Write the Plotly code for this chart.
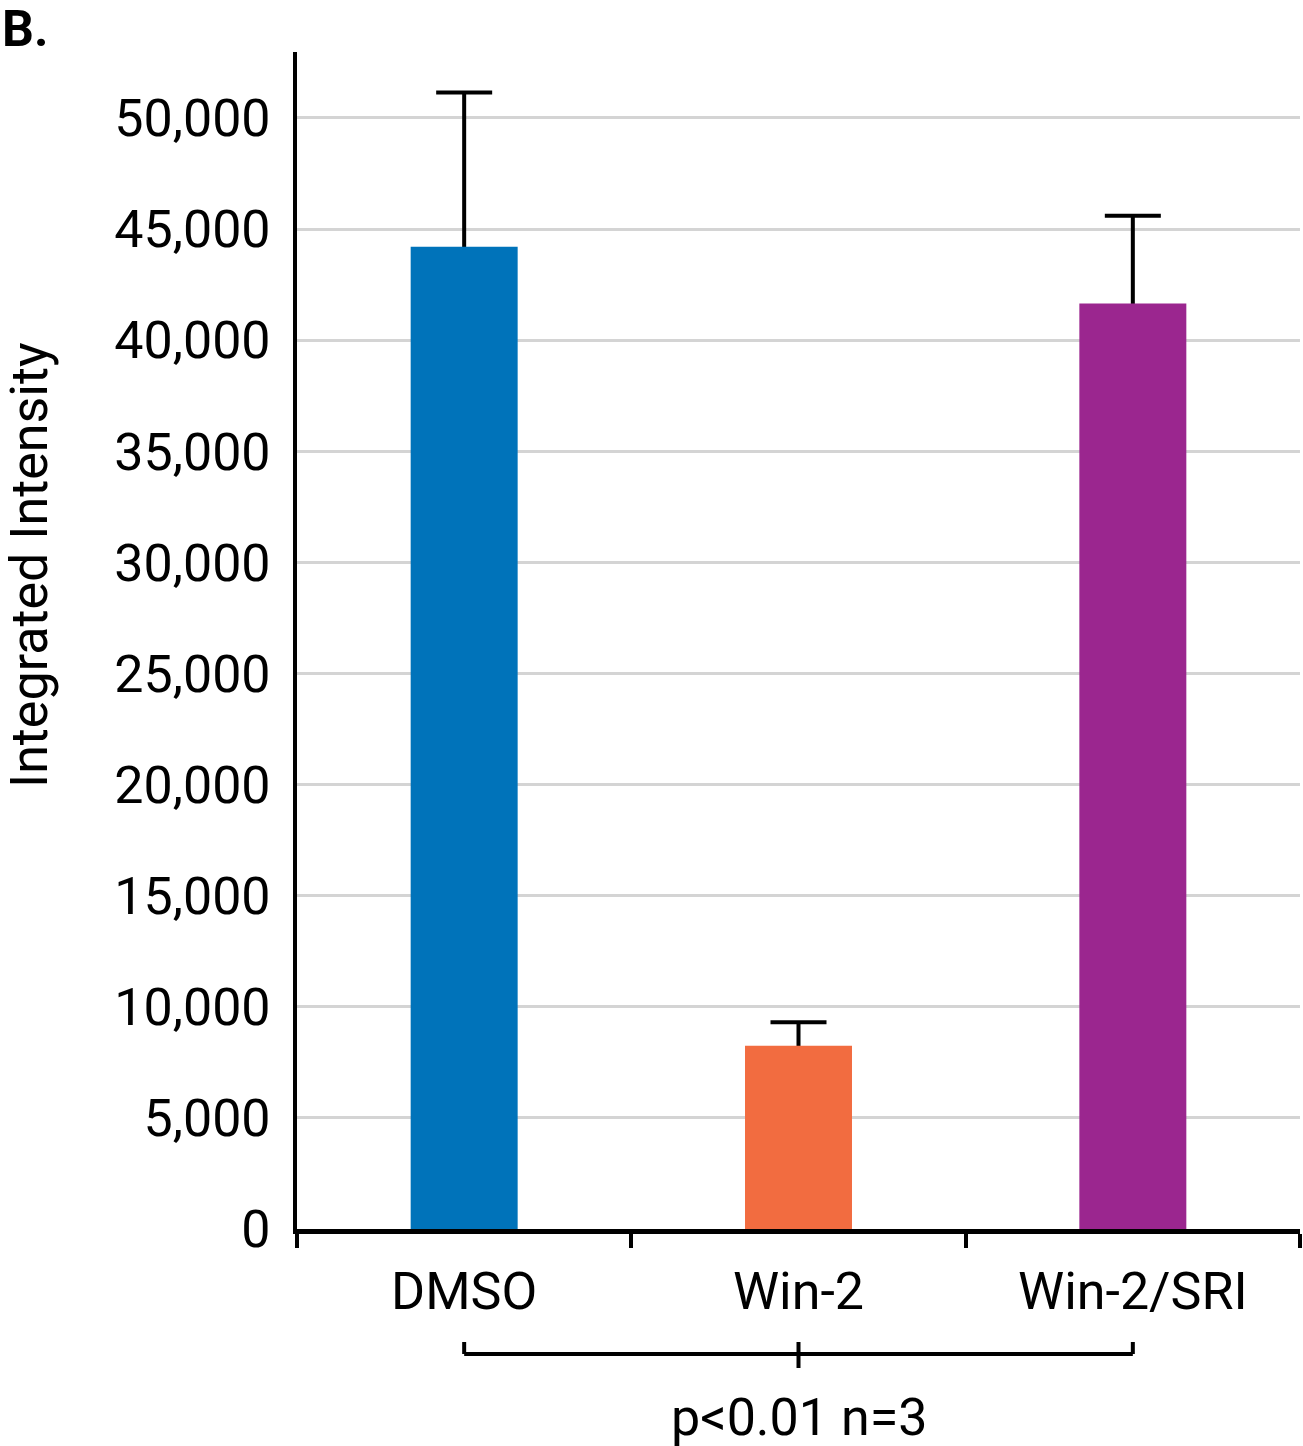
import plotly.graph_objects as go

categories = ["DMSO", "Win-2", "Win-2/SRI"]
means = [44200, 8250, 41650]
errors = [6950, 1050, 3950]
colors = ["#0073BA", "#F26C40", "#9B268F"]
y_ticks = [0, 5000, 10000, 15000, 20000, 25000, 30000, 35000, 40000, 45000, 50000]
y_tick_text = ["0", "5,000", "10,000", "15,000", "20,000", "25,000", "30,000",
               "35,000", "40,000", "45,000", "50,000"]
y_max = 52970
panel_label = "B."
y_title = "Integrated Intensity"
stat_text = "p<0.01 n=3"

FONT = "Roboto, Arial, sans-serif"
PW, PH = 1003, 1177  # plot area size in px

fig = go.Figure()

# Error bars (base subplot, so bars on the overlay cover the lower half)
fig.add_trace(go.Scatter(
    x=categories, y=means, mode="markers",
    marker=dict(size=1, color="rgba(0,0,0,0)"),
    error_y=dict(type="data", array=errors, symmetric=True,
                 color="black", thickness=4, width=28),
    xaxis="x", yaxis="y", showlegend=False, hoverinfo="skip",
))

fig.add_trace(go.Bar(
    x=categories, y=means, marker=dict(color=colors, line=dict(width=0)),
    xaxis="x2", yaxis="y2", showlegend=False,
))

common_x = dict(type="category", categoryorder="array", categoryarray=categories,
                range=[-0.5, 2.5], automargin=False)

fig.update_layout(
    width=1303, height=1446,
    margin=dict(l=297, r=3, t=52, b=217, autoexpand=False),
    paper_bgcolor="white", plot_bgcolor="white",
    bargap=0.68,
    font=dict(family=FONT, size=52, color="black"),
    xaxis=dict(**common_x, showline=True, linecolor="black", linewidth=5,
               ticks="outside", tickson="boundaries", ticklen=14, tickwidth=4,
               tickcolor="black", showgrid=False, ticklabelstandoff=13,
               tickfont=dict(size=52, family=FONT, color="black")),
    yaxis=dict(range=[0, y_max], tickvals=y_ticks, ticktext=y_tick_text,
               showline=True, linecolor="black", linewidth=4, ticks="",
               showgrid=True, gridcolor="#D4D4D4", gridwidth=3, zeroline=False,
               ticklabelstandoff=12, automargin=False,
               tickfont=dict(size=52, family=FONT, color="black")),
    xaxis2=dict(**common_x, overlaying="x", showticklabels=False, showline=False,
                showgrid=False, ticks=""),
    yaxis2=dict(range=[0, y_max], overlaying="y", showticklabels=False,
                showline=False, showgrid=False, zeroline=False, ticks="",
                automargin=False),
)

# Y axis title
fig.add_annotation(text=y_title, xref="paper", yref="paper",
                   x=(29 - 297) / PW, y=(1229 - 565) / PH, textangle=-90,
                   showarrow=False, xanchor="center", yanchor="middle",
                   font=dict(size=52, family=FONT, color="black"))

# Panel label
fig.add_annotation(text="<b>" + panel_label + "</b>", xref="paper", yref="paper",
                   x=-297 / PW, y=1 + 52 / PH + 0.002, xanchor="left", yanchor="top",
                   showarrow=False, font=dict(size=50, family=FONT, color="black"))

# Significance bracket spanning the categories
line_style = dict(color="black", width=4)
yb, yt, yc = -(1354 - 1229) / PH, -(1342 - 1229) / PH, -(1368 - 1229) / PH
fig.add_shape(type="line", xref="x", yref="paper", x0=categories[0], x1=categories[-1],
              y0=yb, y1=yb, line=line_style)
fig.add_shape(type="line", xref="x", yref="paper", x0=categories[0], x1=categories[0],
              y0=yb, y1=yt, line=line_style)
fig.add_shape(type="line", xref="x", yref="paper", x0=categories[-1], x1=categories[-1],
              y0=yb, y1=yt, line=line_style)
fig.add_shape(type="line", xref="x", yref="paper", x0=categories[1], x1=categories[1],
              y0=yt, y1=yc, line=line_style)
fig.add_annotation(text=stat_text, xref="x", yref="paper", x=categories[1],
                   y=-(1417 - 1229) / PH,
                   showarrow=False, xanchor="center", yanchor="middle",
                   font=dict(size=52, family=FONT, color="black"))

fig.write_html("out.html",
               config={"displayModeBar": False},
               post_script="document.body.style.margin='0';"
                           "document.body.style.overflow='hidden';")
